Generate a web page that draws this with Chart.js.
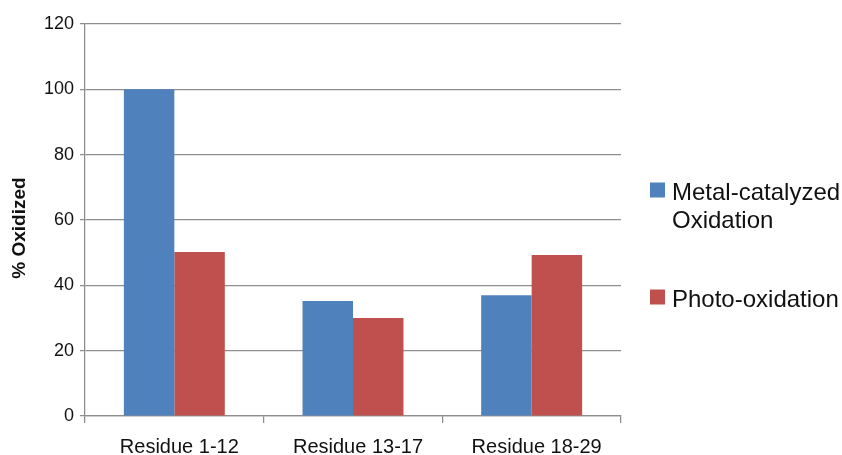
<!DOCTYPE html>
<html>
<head>
<meta charset="utf-8">
<script src="https://cdn.jsdelivr.net/npm/chart.js@4/dist/chart.umd.min.js"></script>
<style>
  html, body { margin: 0; padding: 0; background: #fff; }
  #wrap { width: 842px; height: 455px; position: relative; }
</style>
</head>
<body>
<div id="wrap"><canvas id="oxChart"></canvas></div>
<script>
// residue segments and % oxidized per method
const categories = ["Residue 1-12", "Residue 13-17", "Residue 18-29"];
const metalCatalyzed = [100, 35.2, 37];
const photoOxidation = [50.2, 30, 49.3];
const seriesNames = [["Metal-catalyzed", "Oxidation"], ["Photo-oxidation"]];
const yTicks = [0, 20, 40, 60, 80, 100, 120];
const yTitle = "% Oxidized";

const FONT = "'Liberation Sans', Arial, Helvetica, sans-serif";

// legend on the right (wrapped labels) and the rotated y title
const sideLegend = {
  id: "sideLegend",
  afterDraw(chart) {
    const ctx = chart.ctx;
    const rows = [190, 297];
    ctx.save();
    ctx.font = "24px " + FONT;
    ctx.textBaseline = "alphabetic";
    chart.data.datasets.forEach((ds, i) => {
      const cy = rows[i];
      ctx.fillStyle = ds.backgroundColor;
      ctx.fillRect(650, cy - 7.5, 15, 15);
      ctx.fillStyle = "#111";
      seriesNames[i].forEach((t, j) => ctx.fillText(t, 672, cy + 9.5 + j * 28));
    });

    ctx.translate(20, 228);
    ctx.rotate(-Math.PI / 2);
    ctx.font = "bold 19px " + FONT;
    ctx.textAlign = "center";
    ctx.textBaseline = "middle";
    ctx.fillStyle = "#111";
    ctx.fillText(yTitle, 0, 0);
    ctx.restore();
  }
};

new Chart(document.getElementById("oxChart"), {
  type: "bar",
  data: {
    labels: categories,
    datasets: [
      { label: seriesNames[0].join(" "), data: metalCatalyzed, backgroundColor: "#4F81BD" },
      { label: seriesNames[1].join(" "), data: photoOxidation, backgroundColor: "#C0504D" }
    ]
  },
  options: {
    responsive: true,
    maintainAspectRatio: false,
    animation: false,
    layout: { padding: { left: 0, right: 221, top: 24, bottom: 0 } },
    datasets: { bar: { categoryPercentage: 0.565, barPercentage: 1 } },
    plugins: { legend: { display: false }, tooltip: { enabled: false } },
    scales: {
      x: {
        afterFit: s => { s.height = 39; },
        grid: { offset: true, drawOnChartArea: false, drawTicks: true, tickLength: 7, color: "#8e8e8e", lineWidth: 1.25 },
        border: { color: "#8e8e8e", width: 1.25 },
        ticks: { color: "#111", font: { family: FONT, size: 20 }, padding: 12, labelOffset: 5, maxRotation: 0 }
      },
      y: {
        min: 0,
        max: 120,
        afterFit: s => { s.width = 85; },
        afterBuildTicks: s => { s.ticks = yTicks.map(v => ({ value: v })); },
        grid: { color: "#8e8e8e", lineWidth: 1.25, tickLength: 5 },
        border: { color: "#8e8e8e", width: 1.25 },
        ticks: { color: "#111", font: { family: FONT, size: 18 }, padding: 6 }
      }
    }
  },
  plugins: [sideLegend]
});
</script>
</body>
</html>
